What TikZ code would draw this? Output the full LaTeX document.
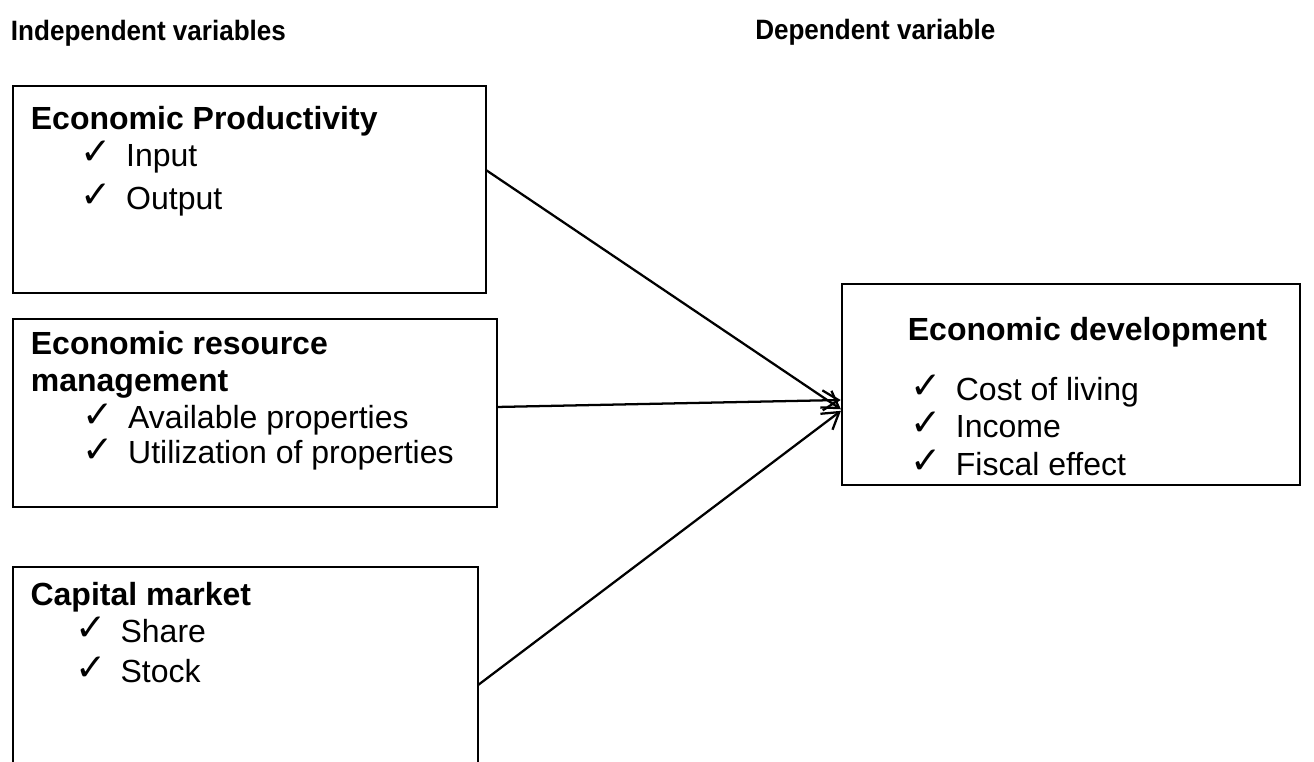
\documentclass[tikz,border=0pt]{standalone}
\usepackage{fontspec}
\setmainfont{Liberation Sans}
\newfontfamily\headfont[FakeStretch=0.93]{Liberation Sans Bold}
\newfontfamily\tickfont{DejaVu Sans}
\usetikzlibrary{
  arrows.meta,
  calc,
  positioning,
}
\tikzset{
  >={Straight Barb[length=12pt,width=15pt]},
  shorten >=1pt,
  varbox/.style={draw, line width=2.2pt, outer sep=0pt, inner sep=0pt, anchor=north west},
  vartext/.style={inner sep=0pt, align=left, font=\fontsize{24}{27.75}\selectfont},
  heading/.style={inner sep=0pt, anchor=base west, font=\headfont\fontsize{21}{25}\selectfont},
  link/.style={->, line width=1.7pt},
}
\newcommand{\tick}[2][37.5pt]{\hspace*{#1}\makebox[34pt][l]{\smash{\raisebox{1pt}{\tickfont\fontsize{28}{30}\selectfont ✓}}}#2}

\begin{document}
\begin{tikzpicture}[x=0.75pt, y=-0.75pt]
  \useasboundingbox (0,0) rectangle (1314,762);
  \node [heading] (indep) at (10.7,41) {Independent variables};
  \node [heading] (dep) at (755,40) {Dependent variable};

  \node [varbox, minimum width=354.75pt, minimum height=155.25pt] (prod) at (13,86) {};
  \node [varbox, minimum width=363pt, minimum height=141pt] (res) at (13,319) {};
  \node [varbox, minimum width=348.75pt, minimum height=156.75pt] (cap) at (13,567) {};
  \node [varbox, minimum width=343.5pt, minimum height=150.75pt] (dev) at (842,284) {};

  \node [vartext, below right=14.8pt and 13.2pt of prod.north west] (prod-txt)
        {\textbf{Economic Productivity}\\ \tick{Input}\\[4.5pt] \tick{Output}};
  \node [vartext, below right=9.1pt and 13.2pt of res.north west] (res-txt)
        {\textbf{Economic resource}\\ \textbf{management}\\ \tick[39pt]{Available properties}\\[-1.5pt]
         \tick[39pt]{Utilization of properties}};
  \node [vartext, below right=11.1pt and 13pt of cap.north west] (cap-txt)
        {\textbf{Capital market}\\ \tick[33.5pt]{Share}\\[2.25pt] \tick[33.5pt]{Stock}};
  \node [vartext, below right=24.5pt and 49.2pt of dev.north west] (dev-txt)
        {\textbf{Economic development}\\[17.25pt] \tick[2pt]{Cost of living}\\ \tick[2pt]{Income}\\[0.75pt]
         \tick[2pt]{Fiscal effect}};

  \draw [link] ($(prod.north east)!0.406!(prod.south east)$) -- ($(dev.north west)!0.627!(dev.south west)$);
  \draw [link] ($(res.north east)!0.468!(res.south east)$) -- ($(dev.north west)!0.577!(dev.south west)$);
  \draw [link] ($(cap.north east)!0.565!(cap.south east)$) -- ($(dev.north west)!0.627!(dev.south west)$);
\end{tikzpicture}
\end{document}
